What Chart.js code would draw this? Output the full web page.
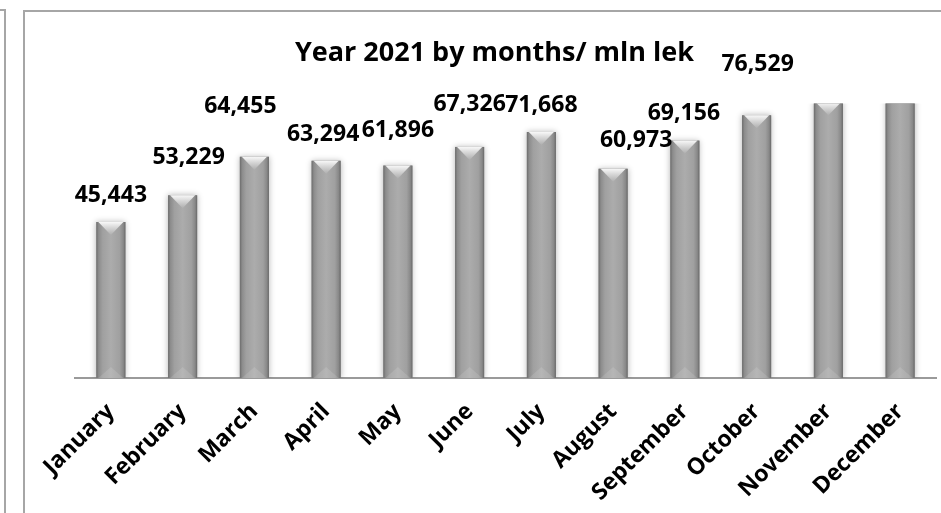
<!DOCTYPE html>
<html>
<head>
<meta charset="utf-8">
<script src="https://cdn.jsdelivr.net/npm/chart.js@4.4.1/dist/chart.umd.min.js"></script>
<style>
  html, body { margin: 0; padding: 0; background: #fff; }
  #wrap { position: relative; width: 941px; height: 513px; overflow: hidden; }
  #wrap canvas { position: absolute; left: 0; top: 0; }
  .edge { position: absolute; background: #a6a6a6; }
</style>
</head>
<body>
<div id="wrap">
  <!-- corner of the neighbouring chart frame + this chart's frame -->
  <div class="edge" style="left:0; top:9px; width:6px; height:2px"></div>
  <div class="edge" style="left:4px; top:9px; width:2px; height:504px"></div>
  <div class="edge" style="left:23px; top:10px; width:2px; height:503px"></div>
  <div class="edge" style="left:23px; top:10px; width:918px; height:2px"></div>
  <canvas id="chart" width="941" height="513"></canvas>
</div>
<script>
const months = ["January", "February", "March", "April", "May", "June",
  "July", "August", "September", "October", "November", "December"];
// mln lek; Nov/Dec run off the top of the plot, so their labels are not shown
const revenue = [45443, 53229, 64455, 63294, 61896, 67326, 71668, 60973, 69156, 76529, 80300, 90000];
const axisMax = 80000;
const titleText = "Year 2021 by months/ mln lek";

const FONT = "'Open Sans', Lato, sans-serif";

// gradient + bevel look of the excel bars
const barShade = {
  id: "barShade",
  beforeDatasetsDraw(chart) {
    const ctx = chart.ctx;
    ctx.save();
    ctx.shadowColor = "rgba(0,0,0,0.3)";
    ctx.shadowBlur = 6;
  },
  afterDatasetsDraw(chart) {
    const ctx = chart.ctx;
    ctx.restore();
    const area = chart.chartArea;
    const bars = chart.getDatasetMeta(0).data;
    ctx.save();
    ctx.beginPath();
    ctx.rect(area.left, area.top, area.right - area.left, area.bottom - area.top);
    ctx.clip();
    bars.forEach((bar) => {
      const w = bar.width;
      const x0 = bar.x - w / 2, x1 = bar.x + w / 2;
      const top = bar.y, base = bar.base;

      const g = ctx.createLinearGradient(x0, 0, x1, 0);
      g.addColorStop(0, "#6c6c6c");
      g.addColorStop(0.08, "#8c8c8c");
      g.addColorStop(0.22, "#a0a0a0");
      g.addColorStop(0.5, "#acacac");
      g.addColorStop(0.8, "#a0a0a0");
      g.addColorStop(0.93, "#888888");
      g.addColorStop(1, "#686868");
      ctx.fillStyle = g;
      ctx.fillRect(x0, top, w, base - top);

      // top chevron
      const bev = 13;
      const vg = ctx.createLinearGradient(0, top, 0, top + bev);
      vg.addColorStop(0, "#f8f8f8");
      vg.addColorStop(1, "rgba(175,175,175,0.9)");
      ctx.fillStyle = vg;
      ctx.beginPath();
      ctx.moveTo(x0 + 2, top);
      ctx.lineTo(x1 - 2, top);
      ctx.lineTo(bar.x, top + bev);
      ctx.closePath();
      ctx.fill();

      // faint bottom chevron
      ctx.fillStyle = "rgba(255,255,255,0.12)";
      ctx.beginPath();
      ctx.moveTo(x0 + 2, base);
      ctx.lineTo(x1 - 2, base);
      ctx.lineTo(bar.x, base - 11);
      ctx.closePath();
      ctx.fill();
    });
    ctx.restore();
  }
};

// value labels above bars (the excel labels were dragged by hand, hence nudges)
const valueTags = {
  id: "valueTags",
  afterDatasetsDraw(chart, args, opts) {
    const ctx = chart.ctx;
    const yMax = chart.scales.y.max;
    const meta = chart.getDatasetMeta(0);
    ctx.save();
    ctx.font = opts.font;
    ctx.fillStyle = "#000";
    ctx.textAlign = "center";
    ctx.textBaseline = "middle";
    meta.data.forEach((bar, i) => {
      const v = revenue[i];
      if (v > yMax) return;
      const n = opts.nudges[i] || [0, 0];
      ctx.fillText(v.toLocaleString("en-US"), bar.x + n[0], bar.y - opts.gap - n[1]);
    });
    ctx.restore();
  }
};

new Chart(document.getElementById("chart"), {
  type: "bar",
  data: {
    labels: months,
    datasets: [{
      data: revenue,
      backgroundColor: "#9e9e9e",
      borderWidth: 0,
      barPercentage: 0.405,
      categoryPercentage: 1,
      clip: 0
    }]
  },
  options: {
    responsive: false,
    animation: false,
    devicePixelRatio: 1,
    layout: { padding: { left: 53, right: 5, top: 37, bottom: 0 } },
    plugins: {
      legend: { display: false },
      tooltip: { enabled: false },
      title: {
        display: true,
        text: titleText,
        color: "#000",
        font: { family: FONT, weight: "bold", size: 27, lineHeight: 1.2 },
        padding: { top: 0, bottom: 34 }
      },
      valueTags: {
        font: "bold 23px " + FONT,
        gap: 27,
        nudges: [[0, 0], [6, 11], [-14, 23], [-3, -1], [0, 8], [0, 15], [0, 0], [23, 1], [-1, 0], [1, 24]]
      }
    },
    scales: {
      x: {
        grid: { display: false },
        border: { display: true, color: "#9a9a9a", width: 2 },
        ticks: {
          color: "#000",
          font: { family: FONT, weight: "bold", size: 23 },
          minRotation: 45,
          maxRotation: 45,
          autoSkip: false,
          padding: 12
        },
        afterFit(scale) { scale.height = 135; }
      },
      y: {
        min: 0,
        max: axisMax,
        grid: { display: false },
        border: { display: false },
        ticks: { display: false },
        afterFit(scale) { scale.width = 22; }
      }
    }
  },
  plugins: [barShade, valueTags]
});
</script>
</body>
</html>
